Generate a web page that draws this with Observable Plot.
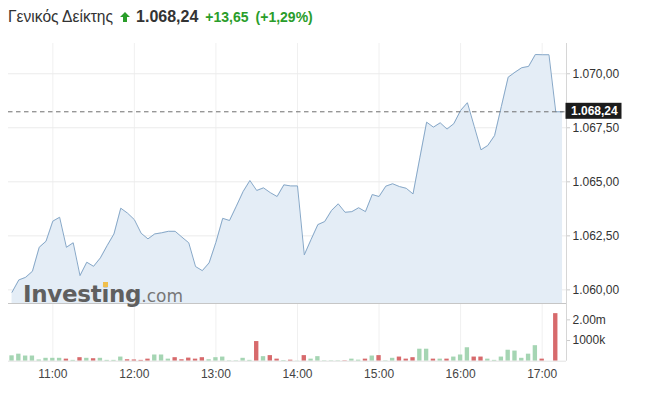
<!DOCTYPE html>
<html><head><meta charset="utf-8">
<script src="https://cdn.jsdelivr.net/npm/d3@7"></script>
<script src="https://cdn.jsdelivr.net/npm/@observablehq/plot@0.6"></script>
<style>
html,body{margin:0;padding:0;background:#fff;}
body{width:662px;height:402px;overflow:hidden;position:relative;font-family:"Liberation Sans",Arial,sans-serif;}
#title{position:absolute;left:8px;top:7px;line-height:20px;white-space:nowrap;color:#333;}
#title .name{font-size:15.6px;color:#333;}
#title .last{font-size:16px;font-weight:bold;color:#333;margin-left:6px;}
#title .chg{font-size:14px;font-weight:bold;color:#2a9d2a;margin-left:7px;}
#title svg{margin-left:7px;vertical-align:baseline;}
#price{position:absolute;left:0;top:43px;}
#vol{position:absolute;left:0;top:303px;}
#logo{position:absolute;left:23px;top:281px;line-height:23px;white-space:nowrap;pointer-events:none;}
#logo .big{font:bold 23px "DejaVu Sans";color:#5f5f5f;letter-spacing:-0.3px;}
#logo .small{font:17px "DejaVu Sans";color:#777;}
#tittle{position:absolute;width:5px;height:5px;background:#f0bf4c;z-index:5;pointer-events:none;}
</style></head><body>
<div id="title"><span class="name" id="tname"></span><svg width="10" height="10" viewBox="0 0 10 10"><polygon points="5,0 10,5 7,5 7,10 3,10 3,5 0,5" fill="#2a9d2a"/></svg><span class="last" id="tlast"></span><span class="chg" id="tchg"></span><span class="chg" id="tpct"></span></div>
<div id="price"></div>
<div id="vol"></div>
<div id="logo"><span class="big">Invest<span id="ii">i</span>ng</span><span class="small">.com</span></div>
<div id="tittle"></div>
<script>
// ---- data ----
const titleName = "Γενικός Δείκτης";
const lastPrice = 1068.24;
const changeText = "+13,65";
const changePctText = "(+1,29%)";
const startMinute = 630;   // 10:30
const stepMinutes = 5;
const prices = [
 1059.89,1060.46,1060.58,1060.86,1061.97,1062.25,1063.18,1063.36,1061.97,1062.18,
 1060.66,1061.28,1061.09,1061.48,1062.05,1062.59,1063.78,1063.55,1063.25,1062.62,
 1062.36,1062.59,1062.64,1062.71,1062.71,1062.44,1062.18,1061.08,1060.89,1061.25,
 1062.20,1063.31,1063.21,1063.87,1064.55,1065.06,1064.60,1064.72,1064.50,1064.32,
 1064.86,1064.81,1064.81,1061.62,1062.33,1063.02,1063.16,1063.67,1063.98,1063.59,
 1063.62,1063.80,1063.62,1064.41,1064.32,1064.80,1064.91,1064.78,1064.70,1064.44,
 1066.11,1067.76,1067.53,1067.73,1067.44,1067.69,1068.30,1068.66,1067.57,1066.48,
 1066.68,1067.14,1068.49,1069.84,1070.07,1070.28,1070.34,1070.89,1070.88,1070.88,
 1068.24,1068.24
];
const volumesM = [
 0.26,0.34,0.25,0.25,0.06,0.14,0.14,0.14,0.10,0.04,
 0.17,0.14,0.12,0.14,0.04,0.04,0.20,0.07,0.06,0.04,
 0.10,0.30,0.30,0.10,0.17,0.07,0.15,0.10,0.17,0.07,
 0.17,0.20,0.02,0.02,0.14,0.04,0.95,0.22,0.27,0.10,
 0.03,0.05,0.01,0.27,0.10,0.22,0.02,0.02,0.02,0.02,
 0.10,0.05,0.10,0.25,0.27,0.02,0.14,0.20,0.10,0.17,
 0.58,0.58,0.10,0.10,0.10,0.20,0.30,0.65,0.20,0.20,
 0.10,0.04,0.20,0.53,0.49,0.14,0.34,0.75,0.10,0,
 2.30,0
];
const volumeDirs = [
 "u","u","u","u","u","u","u","u","d","u",
 "d","u","d","u","u","u","u","d","d","d",
 "d","u","u","u","d","d","d","d","d","u",
 "u","u","u","u","u","u","d","u","d","d",
 "u","d","u","d","u","u","u","u","u","d",
 "u","u","d","u","d","u","u","d","d","d",
 "u","u","d","u","d","u","u","u","d","d",
 "u","u","u","u","u","u","u","u","d","d",
 "d","d"
];
const priceTicks = [1060, 1062.5, 1065, 1067.5, 1070];
const hourTicks = [660, 720, 780, 840, 900, 960, 1020];
const hourLabels = ["11:00","12:00","13:00","14:00","15:00","16:00","17:00"];
const volTicks = [1e6, 2e6];
const volTickLabels = ["1000k", "2.00m"];

// ---- build ----
const fmt = d3.formatLocale({decimal: ",", thousands: ".", grouping: [3], currency: ["", ""]}).format(",.2f");
document.getElementById("tname").textContent = titleName;
document.getElementById("tlast").textContent = fmt(lastPrice);
document.getElementById("tchg").textContent = changeText;
document.getElementById("tpct").textContent = changePctText;

const data = prices.map((v, i) => ({t: startMinute + i * stepMinutes, v}));
const vdata = volumesM.map((v, i) => ({t: startMinute + i * stepMinutes, v: v * 1e6, dir: volumeDirs[i]}));

const xDomain = [627.4, 1037.9];
const yDomain = [1059.37, 1071.4];
const volDomain = [0, 2.79e6];
const areaFill = "#e4edf6", lineColor = "#87a8c8";
const green = "#a5d5b3", red = "#d76a6c";
const font = {fontFamily: "'Liberation Sans', Arial, sans-serif", fontSize: "12px", background: "transparent", overflow: "visible"};

const labelMark = (index, scales, values, dims) => {
  const y = scales.y(lastPrice);
  const x0 = dims.width - dims.marginRight;
  const g = d3.create("svg:g");
  g.append("rect").attr("x", x0 - 0.5).attr("y", y - 8.5).attr("width", 56).attr("height", 16).attr("fill", "#1c1c1c");
  g.append("text").attr("x", x0 + 5).attr("y", y - 0.5).attr("dy", "0.36em")
    .attr("text-anchor", "start")
    .attr("fill", "#fff").attr("font-weight", "bold").attr("font-size", 12)
    .attr("font-family", "'Liberation Sans', Arial, sans-serif").text(fmt(lastPrice));
  return g.node();
};

const price = Plot.plot({
  width: 662, height: 260,
  marginTop: 0, marginBottom: 0, marginLeft: 8, marginRight: 96,
  style: font,
  x: {type: "linear", domain: xDomain, axis: null},
  y: {domain: yDomain, axis: null},
  marks: [
    Plot.gridX(hourTicks, {stroke: "#f0f0f0", strokeOpacity: 1}),
    Plot.gridY(priceTicks, {stroke: "#ebebeb", strokeOpacity: 1}),
    Plot.areaY(data, {x: "t", y1: yDomain[0], y2: "v", fill: areaFill}),
    Plot.lineY(data, {x: "t", y: "v", stroke: lineColor, strokeWidth: 1}),
    Plot.ruleY([lastPrice], {stroke: "#6e6e6e", strokeDasharray: "4.5,3.5", strokeWidth: 1}),
    Plot.ruleX([xDomain[1]], {stroke: "#d6d6d6"}),
    Plot.axisY(priceTicks, {anchor: "right", label: null, tickSize: 3, tickFormat: () => "", color: "#cccccc"}),
    Plot.axisY(priceTicks, {anchor: "right", label: null, tickSize: 0, tickPadding: 6, tickFormat: fmt, fontSize: 12, color: "#333"}),
    labelMark
  ]
});
document.getElementById("price").appendChild(price);

const vol = Plot.plot({
  width: 662, height: 98,
  marginTop: 0, marginBottom: 40.3, marginLeft: 8, marginRight: 96,
  style: font,
  x: {type: "linear", domain: xDomain, axis: null},
  y: {domain: volDomain, axis: null},
  marks: [
    Plot.gridX(hourTicks, {stroke: "#f0f0f0", strokeOpacity: 1}),
    Plot.rectY(vdata, {x1: d => d.t - 1.6, x2: d => d.t + 1.6, y: "v", fill: d => d.dir === "u" ? green : red}),
    Plot.ruleY([0], {stroke: "#e2e2e2"}),
    Plot.ruleY([volDomain[1]], {stroke: "#c6c6c6"}),
    Plot.ruleX([xDomain[1]], {stroke: "#d6d6d6"}),
    Plot.axisY(volTicks, {anchor: "right", label: null, tickSize: 3, tickFormat: () => "", color: "#cccccc"}),
    Plot.axisY(volTicks, {anchor: "right", label: null, tickSize: 0, tickPadding: 6, tickFormat: d => volTickLabels[volTicks.indexOf(d)], fontSize: 12, color: "#333"}),
    Plot.axisX(hourTicks, {anchor: "bottom", label: null, tickSize: 0, tickPadding: 8, tickFormat: d => hourLabels[hourTicks.indexOf(d)], fontSize: 12, color: "#444"})
  ]
});
document.getElementById("vol").appendChild(vol);

// the logo's yellow square over the "i"
function placeTittle() {
  const r = document.getElementById("ii").getBoundingClientRect();
  const t = document.getElementById("tittle");
  t.style.left = (r.left + r.width / 2 - 2.5) + "px";
  t.style.top = "282px";
}
placeTittle();
if (document.fonts && document.fonts.ready) document.fonts.ready.then(placeTittle);
</script>
</body></html>
